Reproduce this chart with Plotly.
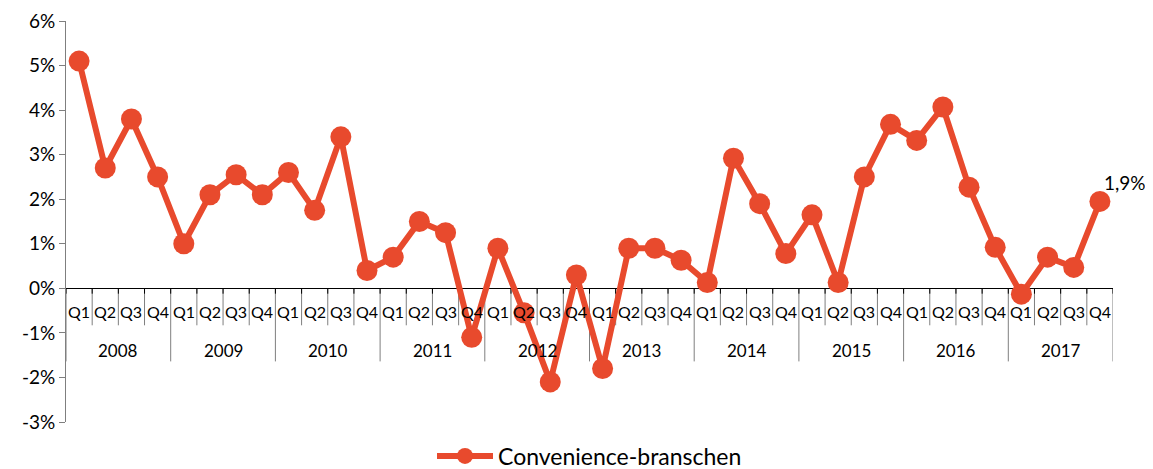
import plotly.graph_objects as go

years = ["2008", "2009", "2010", "2011", "2012", "2013", "2014", "2015", "2016", "2017"]
quarters = ["Q1", "Q2", "Q3", "Q4"]
values = [
    5.1, 2.7, 3.8, 2.5,
    1.0, 2.1, 2.55, 2.1,
    2.6, 1.75, 3.4, 0.4,
    0.7, 1.5, 1.25, -1.1,
    0.9, -0.55, -2.1, 0.3,
    -1.8, 0.9, 0.9, 0.63,
    0.13, 2.92, 1.9, 0.78,
    1.65, 0.13, 2.5, 3.68,
    3.32, 4.07, 2.27, 0.92,
    -0.13, 0.7, 0.47, 1.95,
]
series_name = "Convenience-branschen"
last_label = "1,9%"
y_ticks = [-3, -2, -1, 0, 1, 2, 3, 4, 5, 6]
y_tick_text = ["-3%", "-2%", "-1%", "0%", "1%", "2%", "3%", "4%", "5%", "6%"]

COLOR = "#E84A2D"
FONT = "Lato, 'Open Sans', sans-serif"

# page body has an 8px default margin; compensate so the figure fills the window
OFF = 8
W, H = 1153 - OFF, 469 - OFF
ML, MR, MT = 66 - OFF, 40, 21 - OFF
PLOT_BOTTOM = 422 - OFF
LEGEND_Y = 456 - OFF

n = len(years) * len(quarters)
xs = list(range(n))

fig = go.Figure()
fig.add_trace(go.Scatter(
    x=xs, y=values, mode="lines+markers", name=series_name,
    line=dict(color=COLOR, width=6),
    marker=dict(color=COLOR, size=21),
    showlegend=True,
))

shapes = []
annotations = []
q_bottom = -0.83
y_bottom = -1.64
for i in range(n + 1):
    xb = i - 0.5
    shapes.append(dict(type="line", xref="x", yref="y", x0=xb, x1=xb, y0=0,
                       y1=(y_bottom if i % 4 == 0 else q_bottom),
                       line=dict(color="#7f7f7f", width=1), layer="below"))
    shapes.append(dict(type="line", xref="x", yref="y", x0=xb, x1=xb, y0=0, y1=-0.12,
                       line=dict(color="#000000", width=1), layer="below"))

for yi, yr in enumerate(years):
    for qi, q in enumerate(quarters):
        annotations.append(dict(x=yi * 4 + qi, y=-0.53, xref="x", yref="y", text=q,
                                showarrow=False, font=dict(family=FONT, size=16, color="#000")))
    annotations.append(dict(x=yi * 4 + 1.5, y=-1.39, xref="x", yref="y", text=yr,
                            showarrow=False, font=dict(family=FONT, size=17, color="#000")))

annotations.append(dict(x=xs[-1], y=values[-1], xref="x", yref="y", text=last_label,
                        showarrow=False, xanchor="left", yanchor="bottom", xshift=2, yshift=5,
                        font=dict(family=FONT, size=19, color="#000")))

plot_h_total = H - MT
dom_bottom = (H - PLOT_BOTTOM) / plot_h_total
legend_y = (H - LEGEND_Y) / plot_h_total

fig.update_layout(
    width=W, height=H,
    margin=dict(l=ML, r=MR, t=MT, b=0, autoexpand=False),
    paper_bgcolor="white", plot_bgcolor="white",
    font=dict(family=FONT, color="#000"),
    shapes=shapes, annotations=annotations,
    legend=dict(orientation="h", x=0.5, xanchor="center", y=legend_y, yanchor="middle",
                itemwidth=56, borderwidth=0,
                font=dict(family=FONT, size=23, color="#000")),
    xaxis=dict(range=[-0.5, n - 0.5], showgrid=False, zeroline=False, showline=False,
               showticklabels=False, ticks="", automargin=False),
    yaxis=dict(domain=[dom_bottom, 1], range=[-3, 6], tickmode="array", tickvals=y_ticks,
               ticktext=y_tick_text, showgrid=False, automargin=False,
               zeroline=True, zerolinecolor="#000000", zerolinewidth=1,
               showline=True, linecolor="#7f7f7f", linewidth=1,
               ticks="outside", ticklen=6, tickcolor="#7f7f7f",
               tickfont=dict(family=FONT, size=19, color="#000")),
)

fig.write_html("out.html")
